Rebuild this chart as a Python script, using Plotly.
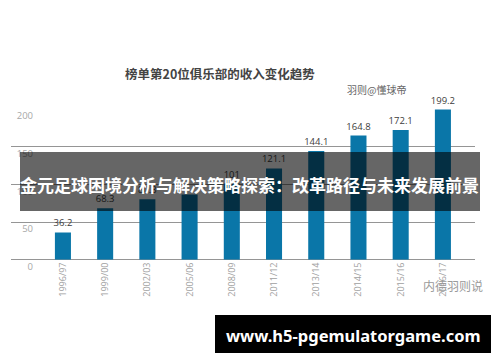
import plotly.graph_objects as go

categories = ["1996/97","1999/00","2002/03","2005/06","2008/09","2011/12","2013/14","2014/15","2015/16","2016/17"]
values = [36.2,68.3,80.3,86.5,101,121.1,144.1,164.8,172.1,199.2]
value_labels = ["36.2","68.3","80.3","","101","121.1","144.1","164.8","172.1","199.2"]
y_ticks = [0,50,100,150,200]
CJK = "Noto Sans CJK SC"

# The page body has an 8px margin; the figure fills the rest of the window.
OFF = 8
W, H = 484, 346
def fx(px): return (px - OFF) / W
def fy(py): return 1 - (py - OFF) / H

# Second y axis only carries the tick labels, which sit about 7px under each gridline.
LABEL_DROP = 9.3
AXIS2_MIN = -16.5
PX_PER_UNIT = (259.7 - 109) / 200

fig = go.Figure()
fig.add_bar(x=categories, y=values, width=0.38, marker=dict(color="#0a76a8", line=dict(width=0)),
            text=value_labels, textposition="outside", cliponaxis=False, constraintext="none",
            textangle=0, textfont=dict(family="Open Sans", size=9.5, color="#3c3c3c"), hoverinfo="skip")
fig.add_scatter(x=categories, y=values, yaxis="y2", mode="lines", line=dict(width=0), opacity=0,
                hoverinfo="skip", showlegend=False)

def t(x, y, s, size, color, bold=False, fam=CJK):
    return dict(xref="paper", yref="paper", x=fx(x), y=fy(y), text=f"<b>{s}</b>" if bold else s,
                showarrow=False, xanchor="center", yanchor="middle", font=dict(family=fam, size=size, color=color))
ann = [
    t(220, 74, "榜单第20位俱乐部的收入变化趋势", 12.5, "#444444", True),
    t(376, 90, "羽则@懂球帝", 10, "#666666"),
    t(453, 285, "内德羽则说", 12, "#9a9a9a"),
    t(249.5, 184, "金元足球困境分析与解决策略探索：改革路径与未来发展前景", 17, "#ffffff", True),
    t(353, 335, "www.h5-pgemulatorgame.com", 16.5, "#ffffff", True, "Noto Sans"),
]
shapes = [
    dict(type="rect", xref="paper", yref="paper", x0=fx(20), x1=fx(480), y0=fy(211), y1=fy(152),
         fillcolor="rgba(0,0,0,0.6)", line_width=0, layer="above"),
    dict(type="rect", xref="paper", yref="paper", x0=fx(215), x1=fx(491), y0=fy(353), y1=fy(315),
         fillcolor="#000000", line_width=0, layer="above"),
]
fig.update_layout(
    width=W, height=H, margin=dict(l=0, r=0, t=0, b=0), paper_bgcolor="white", plot_bgcolor="rgba(0,0,0,0)",
    showlegend=False, annotations=ann, shapes=shapes,
    xaxis=dict(domain=[fx(11), fx(475)], type="category", range=[-1.23, 9.76], tickangle=-90, ticks="",
               tickfont=dict(family="Open Sans", size=9, color="#a0a0a0"), showgrid=False,
               showline=False, zeroline=False),
    yaxis=dict(domain=[fy(259.7), fy(109)], range=[0, 200], tickvals=y_ticks, showticklabels=False,
               gridcolor="#959595", gridwidth=1, zeroline=True, zerolinecolor="#959595", zerolinewidth=1,
               showline=False, ticks=""),
    yaxis2=dict(side="left", anchor="free", position=fx(33),
                domain=[fy(259.7 - AXIS2_MIN * PX_PER_UNIT), fy(109)], range=[AXIS2_MIN, 200],
                tickvals=[v - LABEL_DROP for v in y_ticks], ticktext=[str(v) for v in y_ticks],
                tickfont=dict(family="Open Sans", size=9.5, color="#a8a8a8"),
                showgrid=False, zeroline=False, showline=False, ticks=""),
)
fig.write_html("out.html")
